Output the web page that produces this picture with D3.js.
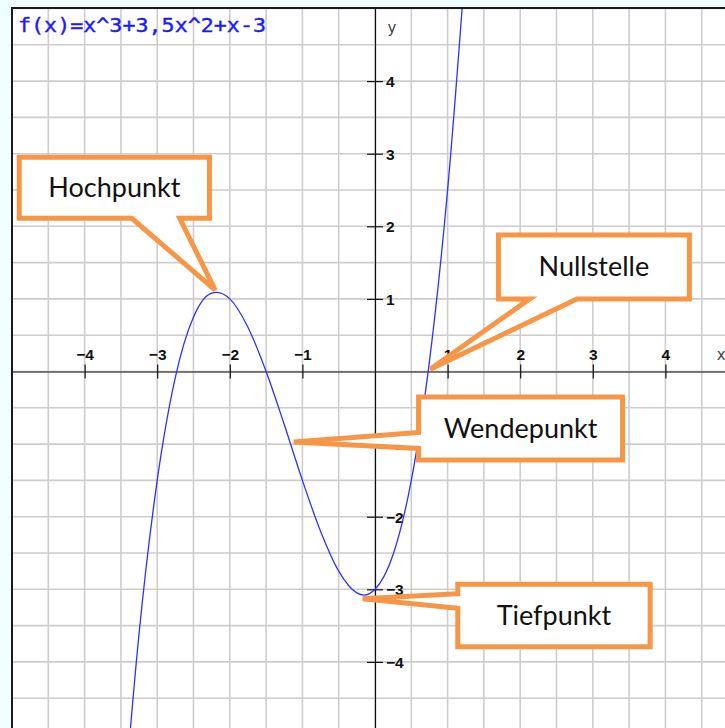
<!DOCTYPE html>
<html>
<head>
<meta charset="utf-8">
<script src="https://cdn.jsdelivr.net/npm/d3@7"></script>
<style>
  html,body{margin:0;padding:0;background:#effefe;overflow:hidden}
  svg{display:block}
</style>
</head>
<body>
<div id="chart"></div>
<script>
// f(x)=x^3+3,5x^2+x-3 — sample points
const curveX = [-3.5,-3.25,-3,-2.75,-2.5,-2.25,-2.18,-2,-1.75,-1.5,-1.25,-1,-0.75,-0.5,-0.25,-0.15,0,0.25,0.5,0.75,1,1.25];
const curveY = [-6.5,-3.61,-1.5,-0.08,0.75,1.08,1.09,1.0,0.61,0,-0.73,-1.5,-2.2,-2.75,-3.05,-3.08,-3,-2.52,-1.5,0.14,2.5,5.67];
const xTicks = [-4,-3,-2,-1,1,2,3,4];
const yTicks = [-4,-3,-2,-1,1,2,3,4];
const gridStep = 0.5;
const title = 'f(x)=x^3+3,5x^2+x-3';
// callouts: label and the curve point the tail goes to
const calloutLabels = ['Hochpunkt','Nullstelle','Wendepunkt','Tiefpunkt'];
const calloutPts = [[-2.2,1.12],[0.76,0.03],[-1.12,-0.97],[-0.17,-3.13]];

(function(){
  const W = 725, H = 728;
  const left = 12, top = 8, unit = 72.6;
  const x = d3.scaleLinear().domain([-5,5]).range([left, left+10*unit]);
  const y = d3.scaleLinear().domain([5,-5]).range([top+0.5, top+0.5+10*unit]);

  const svg = d3.select('#chart').append('svg').attr('width',W).attr('height',H);
  svg.append('defs').append('clipPath').attr('id','plot')
    .append('rect').attr('x',left).attr('y',top).attr('width',W-left).attr('height',H-top);

  const g = svg.append('g').attr('clip-path','url(#plot)');
  g.append('rect').attr('x',left).attr('y',top).attr('width',W-left).attr('height',H-top).attr('fill','#fff');

  // Grid
  const gv = d3.range(-5, 5.001, gridStep);
  g.append('g').selectAll('line.v').data(gv).join('line')
    .attr('x1',d=>x(d)).attr('x2',d=>x(d)).attr('y1',top).attr('y2',H)
    .attr('stroke','#cdcdcd').attr('stroke-width',1.6);
  g.append('g').selectAll('line.h').data(gv).join('line')
    .attr('y1',d=>y(d)).attr('y2',d=>y(d)).attr('x1',left).attr('x2',W)
    .attr('stroke','#cdcdcd').attr('stroke-width',1.6);

  const tickFont = t=>t.style('font-family','"Liberation Sans",Arial,sans-serif')
    .style('font-weight','bold').style('font-size','15.5px').attr('fill','#111');

  // Axes
  const ax = g.append('g').attr('transform',`translate(0,${y(0)})`)
    .call(d3.axisBottom(x).tickValues(xTicks).tickSize(7).tickSizeOuter(0));
  ax.select('.domain').attr('stroke','#111').attr('stroke-width',1.2);
  ax.selectAll('.tick line').attr('y1',-7).attr('y2',7).attr('stroke','#111').attr('stroke-width',1.2);
  ax.selectAll('.tick text').attr('y',-12).attr('dy',0).call(tickFont);

  const ay = g.append('g').attr('transform',`translate(${x(0)},0)`)
    .call(d3.axisRight(y).tickValues(yTicks).tickSize(8).tickSizeOuter(0));
  ay.select('.domain').attr('stroke','#111').attr('stroke-width',1.2);
  ay.selectAll('.tick line').attr('x1',-8).attr('x2',8).attr('stroke','#111').attr('stroke-width',1.2);
  ay.selectAll('.tick text').attr('x',11).attr('dy','0.36em').call(tickFont);

  const lab = {'font-family':'"DejaVu Sans",sans-serif','font-size':'15px','fill':'#444'};
  const yl = g.append('text').attr('x',x(0)+17).attr('y',y(4.66)).attr('text-anchor','middle').text('y');
  const xl = g.append('text').attr('x',x(4.77)).attr('y',y(0)-12).attr('text-anchor','middle').text('x');
  [yl,xl].forEach(t=>Object.entries(lab).forEach(([k,v])=>t.style(k,v)));

  // Curve
  const pts = curveX.map((v,i)=>[v,curveY[i]]);
  g.append('path').datum(pts)
    .attr('fill','none').attr('stroke','#3030ff').attr('stroke-width',1.3)
    .attr('d', d3.line().x(d=>x(d[0])).y(d=>y(d[1])).curve(d3.curveMonotoneX));

  // Title
  g.append('text').attr('x',18).attr('y',32).attr('textLength',248).attr('lengthAdjust','spacingAndGlyphs')
    .style('font-family','"DejaVu Sans Mono","Liberation Mono",monospace').style('font-size','20px')
    .attr('fill','#1a1aff').attr('stroke','#1a1aff').attr('stroke-width',0.4).text(title);

  // Border
  svg.append('path').attr('d',`M${left},${H} V${top} H${W}`)
    .attr('fill','none').attr('stroke','#1a1a1a').attr('stroke-width',2);

  // Callout boxes (data units): box x0,x1,y0,y1, tail side and tail base
  const boxes = [
    {x0:-4.9, x1:-2.28, y0:2.95, y1:2.11, side:'bottom', b0:-3.35, b1:-2.69},
    {x0:1.70, x1:4.33, y0:1.88, y1:1.0, side:'bottom', b0:2.13, b1:2.78},
    {x0:0.60, x1:3.41, y0:-0.35, y1:-1.22, side:'left', b0:-0.84, b1:-1.06},
    {x0:1.14, x1:3.79, y0:-2.93, y1:-3.79, side:'left', b0:-3.06, b1:-3.26}
  ];
  const cg = svg.append('g');
  boxes.forEach((b,i)=>{
    const X0=x(b.x0), X1=x(b.x1), Y0=y(b.y0), Y1=y(b.y1);
    const tx=x(calloutPts[i][0]), ty=y(calloutPts[i][1]);
    let d;
    if(b.side==='bottom'){
      d=`M${X0},${Y0} H${X1} V${Y1} H${x(b.b1)} L${tx},${ty} L${x(b.b0)},${Y1} H${X0} Z`;
    } else {
      d=`M${X0},${Y0} H${X1} V${Y1} H${X0} V${y(b.b1)} L${tx},${ty} L${X0},${y(b.b0)} Z`;
    }
    cg.append('path').attr('d',d).attr('fill','#fff').attr('stroke','#f79646')
      .attr('stroke-width',5).attr('stroke-linejoin','miter').attr('stroke-miterlimit',4);
    cg.append('text').attr('x',(X0+X1)/2).attr('y',(Y0+Y1)/2).attr('dy','0.35em')
      .attr('text-anchor','middle')
      .style('font-family','Lato,"Open Sans",sans-serif').style('font-size','27px').attr('fill','#111')
      .text(calloutLabels[i]);
  });
})();
</script>
</body>
</html>
